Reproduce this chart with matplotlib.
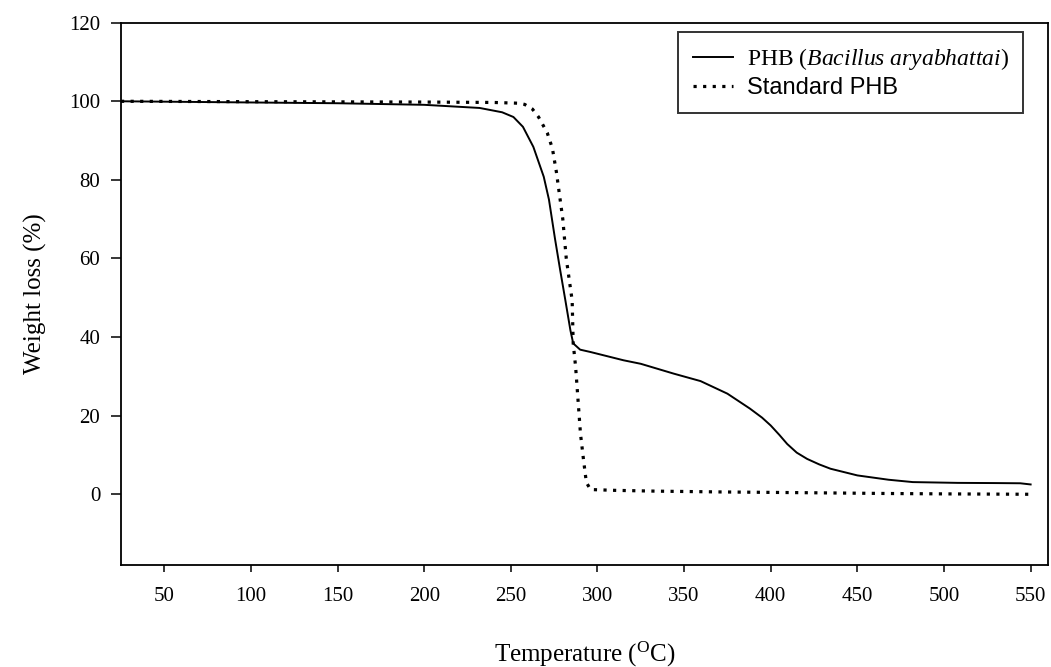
import matplotlib
matplotlib.use("Agg")
import matplotlib.pyplot as plt

temp_bacillus = [25, 50, 100, 150, 200, 232, 245, 251.5, 257, 263, 269, 272, 275.5, 278.5,
                 281.5, 284.4, 286, 290, 296, 315, 325, 344, 359.5, 375, 388, 395, 400, 405,
                 409.5, 415, 421, 428, 434.5, 450, 468, 482, 508, 530, 544, 550]
peso_bacillus = [100, 99.9, 99.7, 99.5, 99.1, 98.3, 97.2, 96, 93.5, 88.4, 80.8, 75, 65, 57,
                 49.3, 41.7, 38.4, 36.8, 36.2, 34.1, 33.2, 30.7, 28.8, 25.6, 21.8, 19.5, 17.5, 15.1,
                 12.8, 10.6, 9.0, 7.6, 6.5, 4.8, 3.7, 3.1, 2.9, 2.85, 2.8, 2.5]

temp_standard = [25, 100, 200, 240, 255, 258, 262.5, 266, 271, 274, 276.3, 280, 282, 285.4,
                 286, 287.4, 290.2, 292, 293.6, 296, 310, 333.5, 370, 420, 467, 500, 550]
peso_standard = [100, 99.9, 99.8, 99.7, 99.5, 99.2, 98, 96, 92, 88, 82, 70, 60, 49.3,
                 38.4, 32.4, 15.4, 8.6, 3, 1.2, 1.0, 0.8, 0.6, 0.4, 0.2, 0.1, 0.0]

xticks = [50, 100, 150, 200, 250, 300, 350, 400, 450, 500, 550]
yticks = [0, 20, 40, 60, 80, 100, 120]

plt.rcParams['font.family'] = 'Liberation Serif'
plt.rcParams['mathtext.fontset'] = 'custom'
plt.rcParams['mathtext.rm'] = 'Liberation Serif'
plt.rcParams['mathtext.it'] = 'Liberation Serif:italic'

fig = plt.figure(figsize=(10.51, 6.67), dpi=100)
ax = fig.add_axes([0.1151, 0.1529, 0.882, 0.8131])

ax.plot(temp_bacillus, peso_bacillus, color='black', linewidth=1.4,
        label=r'PHB ($\it{Bacillus\ aryabhattai}$)')
ax.plot(temp_standard, peso_standard, color='black', linewidth=2.3,
        linestyle=(0, (1, 2.0)), label='Standard PHB')

ax.set_xlim(25, 560)
ax.set_ylim(-18, 120)
ax.set_xticks(xticks)
ax.set_yticks(yticks)

for s in ax.spines.values():
    s.set_linewidth(1.3)

ax.tick_params(axis='y', direction='out', length=7, width=1.1, labelsize=15, pad=8)
ax.tick_params(axis='x', direction='out', length=5, width=1.1, labelsize=15, pad=11)

ax.set_xlabel(r'Temperature ($^{\rm O}$C)', fontsize=18, labelpad=24)
ax.set_ylabel('Weight loss (%)', fontsize=18, labelpad=16)

leg = ax.legend(loc='upper right', bbox_to_anchor=(1023 / 1051, 1 - 32 / 667),
                bbox_transform=fig.transFigure, fontsize=17, frameon=True,
                fancybox=False, handlelength=1.7, handletextpad=0.6,
                borderpad=0.6, labelspacing=0.2, borderaxespad=0)
leg.get_frame().set_edgecolor('black')
leg.get_frame().set_linewidth(1.4)
leg.get_texts()[1].set_fontfamily('Liberation Sans')

plt.savefig('out.png', dpi=100)
